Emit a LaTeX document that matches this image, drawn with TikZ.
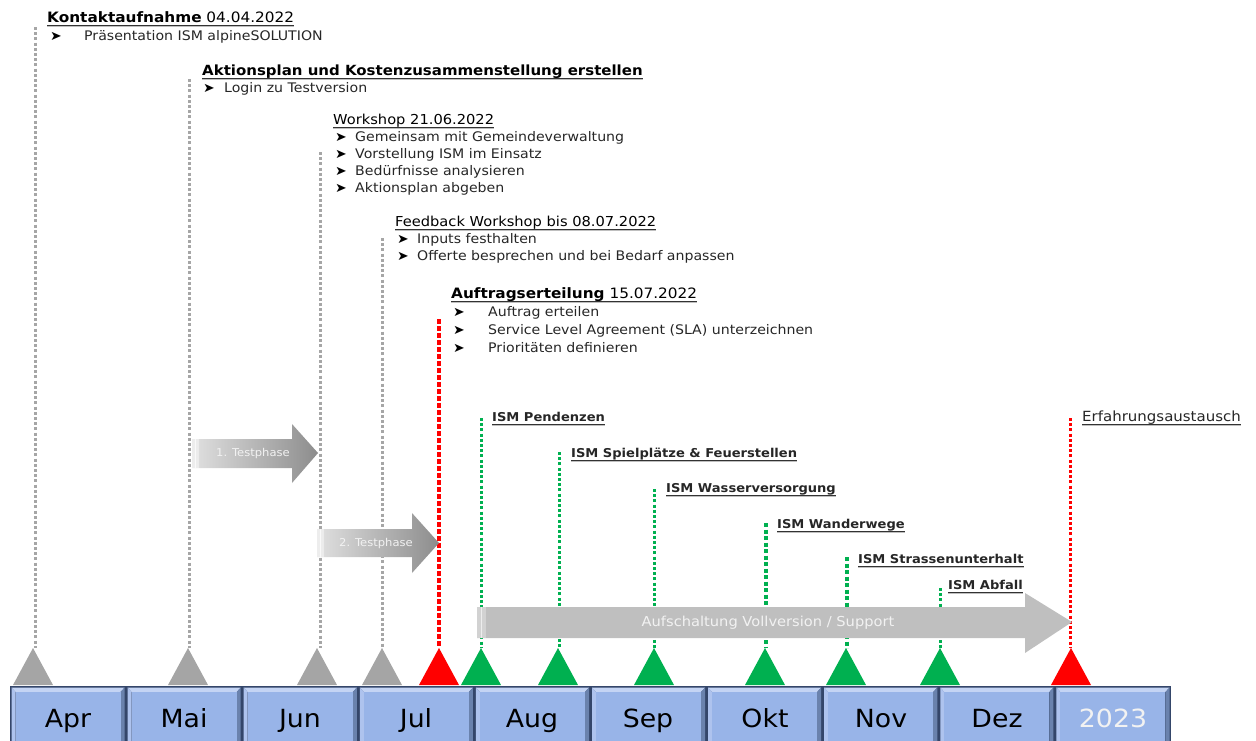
\documentclass[tikz,border=0pt]{standalone}
\usepackage{fontspec}
\setmainfont[FakeStretch=1.07]{DejaVu Sans}
\usetikzlibrary{calc}
\definecolor{dotgray}{HTML}{A6A6A6}
\definecolor{trigray}{HTML}{A5A5A5}
\definecolor{mred}{HTML}{FF0000}
\definecolor{mgreen}{HTML}{00B050}
\definecolor{boxface}{HTML}{98B4E8}
\definecolor{boxtop}{HTML}{C4D4F4}
\definecolor{boxleft}{HTML}{AEC3EE}
\definecolor{boxright}{HTML}{6A82AD}
\definecolor{boxline}{HTML}{34466A}
\definecolor{arrgray}{HTML}{BFBFBF}
\tikzset{
  x=1pt, y=-1pt,
  ttl/.style={anchor=base west, inner sep=0pt, font=\fontsize{13.7}{16}\selectfont, text=black},
  itm/.style={anchor=base west, inner sep=0pt, font=\fontsize{13.2}{15}\selectfont, text=black!85},
  bul/.style={anchor=base west, inner sep=0pt, font=\fontsize{13}{14}\selectfont},
  ism/.style={anchor=base west, inner sep=0pt, font=\bfseries\fontsize{12.2}{15}\selectfont, text=black!85},
  mon/.style={anchor=base, inner sep=0pt, font=\fontsize{25}{30}\selectfont, text=black},
  ultop/.style={line width=1.2pt, black!80},
  ulsh/.style={line width=1.4pt, black!25},
  gdots/.style={dotgray, line width=3pt, dash pattern=on 3pt off 2.2pt},
  rdots/.style={mred, line width=4.5pt, dash pattern=on 4.5pt off 2.5pt},
  rdotsthin/.style={mred, line width=3pt, dash pattern=on 3pt off 2.2pt},
  grdots/.style={mgreen, line width=3pt, dash pattern=on 3pt off 2.2pt},
  grdotsthick/.style={mgreen, line width=4pt, dash pattern=on 4pt off 2.5pt},
  arrtxt/.style={inner sep=0pt, text=white!95!black},
}
\newcommand{\tri}[2]{\fill[#2] (#1) -- ++(-20,37) -- ++(40,0) -- cycle;}
\newcommand{\ulin}[1]{%
  \draw[ulsh] ([yshift=-4.6pt]#1.base west) -- ([yshift=-4.6pt]#1.base east);
  \draw[ultop] ([yshift=-3.3pt]#1.base west) -- ([yshift=-3.3pt]#1.base east);}
\begin{document}
\begin{tikzpicture}
\useasboundingbox (0,0) rectangle (1256,740);

% ---------- line tops and feet ----------
\coordinate (q1) at (35,27);   \coordinate (p1) at (33,648);
\coordinate (q2) at (189,79);  \coordinate (p2) at (188,648);
\coordinate (q3) at (320,152); \coordinate (p3) at (317,648);
\coordinate (q4) at (382,238); \coordinate (p4) at (382,648);
\coordinate (q5) at (439,319); \coordinate (p5) at (439,648);
\coordinate (q6) at (481,418); \coordinate (p6) at (481,648);
\coordinate (q7) at (559,452); \coordinate (p7) at (558,648);
\coordinate (q8) at (654,489); \coordinate (p8) at (654,648);
\coordinate (q9) at (766,523); \coordinate (p9) at (765,648);
\coordinate (q10) at (847,557); \coordinate (p10) at (846,648);
\coordinate (q11) at (940,588); \coordinate (p11) at (940,648);
\coordinate (q12) at (1070,418); \coordinate (p12) at (1071,648);

\draw[gdots] (q1) -- (q1 |- p1);
\draw[gdots] (q2) -- (q2 |- p2);
\draw[gdots] (q3) -- (q3 |- p3);
\draw[gdots] (q4) -- (q4 |- p4);
\draw[rdots] (q5) -- (q5 |- p5);
\draw[grdots] (q6) -- (q6 |- p6);
\draw[grdots] (q7) -- (q7 |- p7);
\draw[grdots] (q8) -- (q8 |- p8);
\draw[grdotsthick] (q9) -- (q9 |- p9);
\draw[grdotsthick] (q10) -- (q10 |- p10);
\draw[grdots] (q11) -- (q11 |- p11);
\draw[rdotsthin] (q12) -- (q12 |- p12);

\tri{p1}{trigray} \tri{p2}{trigray} \tri{p3}{trigray} \tri{p4}{trigray}
\tri{p5}{mred}
\tri{p6}{mgreen} \tri{p7}{mgreen} \tri{p8}{mgreen} \tri{p9}{mgreen} \tri{p10}{mgreen} \tri{p11}{mgreen}
\tri{p12}{mred}

% ---------- month boxes ----------
\foreach \m [count=\i from 0] in {Apr,Mai,Jun,Jul,Aug,Sep,Okt,Nov,Dez,2023}{
  \pgfmathsetmacro{\xa}{10+116.1*\i}
  \fill[boxline] (\xa,686) rectangle ++(116.1,60);
  \fill[boxtop] (\xa+1.5,687.5) -- (\xa+114.6,687.5) -- (\xa+110.5,692) -- (\xa+5.5,692) -- cycle;
  \fill[boxleft] (\xa+1.5,687.5) -- (\xa+5.5,692) -- (\xa+5.5,746) -- (\xa+1.5,746) -- cycle;
  \fill[boxright] (\xa+114.6,687.5) -- (\xa+110.5,692) -- (\xa+110.5,746) -- (\xa+114.6,746) -- cycle;
  \fill[boxface] (\xa+5.5,692) rectangle (\xa+110.5,746);
}
\node[mon] (mApr) at (68,727) {Apr};
\node[mon] (mMai) at (184,727) {Mai};
\node[mon] (mJun) at (300,727) {Jun};
\node[mon] (mJul) at (416,727) {Jul};
\node[mon] (mAug) at (532,727) {Aug};
\node[mon] (mSep) at (648,727) {Sep};
\node[mon] (mOkt) at (765,727) {Okt};
\node[mon] (mNov) at (881,727) {Nov};
\node[mon] (mDez) at (997,727) {Dez};
\node[mon, text=white!95!black] (m2023) at (1113,727) {2023};

% ---------- phase arrows ----------
\shade[left color=black!12, right color=black!45]
  (192,439) -- (292,439) -- (292,424) -- (318,453) -- (292,483) -- (292,468) -- (192,468) -- cycle;
\fill[white, opacity=0.45] (192,439) rectangle (199,468);
\draw[white, line width=0.6pt, opacity=0.7] (195,439) -- (195,468);
\node[arrtxt, font=\fontsize{10.8}{13}\selectfont] (a1) at (253,454) {1. Testphase};

\shade[left color=black!12, right color=black!45]
  (317,529) -- (412,529) -- (412,513) -- (439,543) -- (412,573) -- (412,557) -- (317,557) -- cycle;
\fill[white, opacity=0.45] (317,529) rectangle (324,557);
\draw[white, line width=0.6pt, opacity=0.7] (320,529) -- (320,557);
\node[arrtxt, font=\fontsize{10.8}{13}\selectfont] (a2) at (376,544) {2. Testphase};

\fill[arrgray]
  (477,607) -- (1025,607) -- (1025,593) -- (1072,622) -- (1025,653) -- (1025,638) -- (477,638) -- cycle;
\fill[white, opacity=0.3] (477,607) rectangle (486,638);
\draw[white, line width=0.6pt, opacity=0.6] (481,607) -- (481,638);
\node[arrtxt, font=\fontsize{13.7}{16}\selectfont] (a3) at (768,623) {Aufschaltung Vollversion / Support};

% ---------- texts ----------
\node[ttl, font=\fontsize{14.3}{16}\selectfont] (t1) at (47,22) {\textbf{Kontaktaufnahme} 04.04.2022};
\node[bul] (b1a) at (50,40) {➤};
\node[itm] (i1a) at (84,40) {Präsentation ISM alpineSOLUTION};

\node[ttl, font=\fontsize{14}{16}\selectfont] (t2) at (202,75) {\textbf{Aktionsplan und Kostenzusammenstellung erstellen}};
\node[bul] (b2a) at (203,92) {➤};
\node[itm] (i2a) at (224,92) {Login zu Testversion};

\node[ttl] (t3) at (333,124) {Workshop 21.06.2022};
\node[bul] (b3a) at (335,141) {➤}; \node[itm] (i3a) at (355,141) {Gemeinsam mit Gemeindeverwaltung};
\node[bul] (b3b) at (335,158) {➤}; \node[itm] (i3b) at (355,158) {Vorstellung ISM im Einsatz};
\node[bul] (b3c) at (335,175) {➤}; \node[itm] (i3c) at (355,175) {Bedürfnisse analysieren};
\node[bul] (b3d) at (335,192) {➤}; \node[itm] (i3d) at (355,192) {Aktionsplan abgeben};

\node[ttl] (t4) at (395,226) {Feedback Workshop bis 08.07.2022};
\node[bul] (b4a) at (397,243) {➤}; \node[itm] (i4a) at (417,243) {Inputs festhalten};
\node[bul] (b4b) at (397,260) {➤}; \node[itm] (i4b) at (417,260) {Offerte besprechen und bei Bedarf anpassen};

\node[ttl, font=\fontsize{14.3}{16}\selectfont] (t5) at (451,298) {\textbf{Auftragserteilung} 15.07.2022};
\node[bul] (b5a) at (453,316) {➤}; \node[itm] (i5a) at (488,316) {Auftrag erteilen};
\node[bul] (b5b) at (453,334) {➤}; \node[itm] (i5b) at (488,334) {Service Level Agreement (SLA) unterzeichnen};
\node[bul] (b5c) at (453,352) {➤}; \node[itm] (i5c) at (488,352) {Prioritäten definieren};

\node[ism] (g1) at (492,421) {ISM Pendenzen};
\node[ism] (g2) at (571,457) {ISM Spielplätze \& Feuerstellen};
\node[ism] (g3) at (666,492) {ISM Wasserversorgung};
\node[ism] (g4) at (777,528) {ISM Wanderwege};
\node[ism] (g5) at (858,563) {ISM Strassenunterhalt};
\node[ism] (g6) at (948,589) {ISM Abfall};
\node[ism, font=\fontsize{14}{15}\selectfont] (g7) at (1082,421) {Erfahrungsaustausch};

\foreach \n in {t1,t2,t3,t4,t5,g1,g2,g3,g4,g5,g6,g7}{\ulin{\n}}
\end{tikzpicture}
\end{document}
